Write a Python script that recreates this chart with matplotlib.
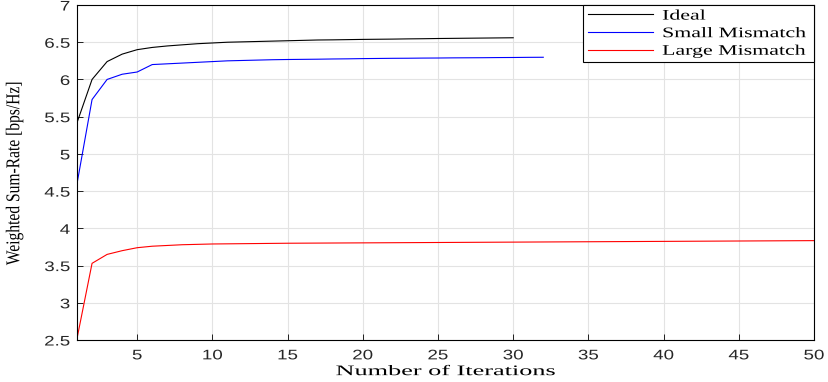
import numpy as np
import matplotlib.pyplot as plt
from matplotlib.patheffects import AbstractPathEffect
from matplotlib.transforms import Affine2D
from matplotlib.path import Path

# values
it_ideal = list(range(1, 31))
ideal = [5.42, 6.00, 6.24, 6.34, 6.40, 6.43, 6.45, 6.465, 6.48, 6.49,
         6.50, 6.505, 6.51, 6.515, 6.52, 6.525, 6.53, 6.532, 6.535, 6.538,
         6.54, 6.542, 6.545, 6.547, 6.55, 6.552, 6.554, 6.556, 6.558, 6.56]

it_small = list(range(1, 33))
small = [4.60, 5.73, 6.00, 6.07, 6.10, 6.20, 6.21, 6.22, 6.23, 6.24,
         6.25, 6.255, 6.26, 6.265, 6.268, 6.27, 6.272, 6.275, 6.277, 6.28,
         6.282, 6.284, 6.285, 6.287, 6.288, 6.29, 6.291, 6.292, 6.294, 6.295,
         6.297, 6.298]

it_large = list(range(1, 51))
large = [2.52, 3.53, 3.65, 3.70, 3.74, 3.76, 3.77, 3.78, 3.785, 3.79,
         3.792, 3.794, 3.796, 3.798, 3.80, 3.801, 3.802, 3.803, 3.804, 3.805,
         3.806, 3.807, 3.808, 3.809, 3.81, 3.811, 3.812, 3.813, 3.814, 3.815,
         3.816, 3.817, 3.818, 3.819, 3.82, 3.821, 3.822, 3.823, 3.824, 3.825,
         3.826, 3.827, 3.828, 3.829, 3.83, 3.831, 3.832, 3.833, 3.834, 3.835]

x_ticks = [5, 10, 15, 20, 25, 30, 35, 40, 45, 50]
y_ticks = [2.5, 3, 3.5, 4, 4.5, 5, 5.5, 6, 6.5, 7]
y_ticklabels = ['2.5', '3', '3.5', '4', '4.5', '5', '5.5', '6', '6.5', '7']


class Stretch(AbstractPathEffect):
    # widen (or narrow) text along its own direction, like the stretched fonts in the original
    def __init__(self, sx, anchor='center'):
        super().__init__()
        self.sx = sx
        self.anchor = anchor

    def draw_path(self, renderer, gc, tpath, affine, rgbFace=None):
        v = tpath.vertices
        if tpath.codes is not None:
            v = v[tpath.codes != Path.CLOSEPOLY]
        if self.anchor == 'left' or len(v) == 0:
            cx = 0
        elif self.anchor == 'right':
            cx = v[:, 0].max()
        else:
            cx = (v[:, 0].min() + v[:, 0].max()) / 2
        t = Affine2D().translate(-cx, 0).scale(self.sx, 1).translate(cx, 0) + affine
        renderer.draw_path(gc, tpath, t, rgbFace)


fig = plt.figure(figsize=(8.29, 3.82), dpi=100)
ax = fig.add_axes([0.0929, 0.1099, 0.889, 0.877])

ax.plot(it_ideal, ideal, color='black', lw=0.8, label='Ideal')
ax.plot(it_small, small, color='blue', lw=0.8, label='Small Mismatch')
ax.plot(it_large, large, color='red', lw=0.8, label='Large Mismatch')

ax.set_xlim(1, 50)
ax.set_ylim(2.5, 7)
ax.set_xticks(x_ticks)
ax.set_yticks(y_ticks)
ax.set_yticklabels(y_ticklabels)
ax.grid(True, color='#e3e3e3', lw=0.8)
ax.set_axisbelow(True)
ax.tick_params(direction='in', labelsize=10, length=4, width=0.6)
ax.tick_params(axis='x', pad=6)
ax.tick_params(axis='y', pad=5)
for lab in ax.get_xticklabels():
    lab.set_family('Liberation Sans')
    lab.set_color('#262626')
    lab.set_path_effects([Stretch(1.35)])
for lab in ax.get_yticklabels():
    lab.set_family('Liberation Sans')
    lab.set_color('#262626')
    lab.set_path_effects([Stretch(1.35, 'right')])
for s in ax.spines.values():
    s.set_linewidth(0.8)

xl = ax.set_xlabel('Number of Iterations', family='Liberation Serif', fontsize=10.5, labelpad=2)
xl.set_path_effects([Stretch(1.8)])
yl = ax.set_ylabel('Weighted Sum-Rate [bps/Hz]', family='Liberation Serif', fontsize=14)
yl.set_path_effects([Stretch(0.8)])
ax.yaxis.set_label_coords(-0.073, 0.5)

leg = ax.legend(loc='upper right', bbox_to_anchor=(0.687, 0.8, 0.313, 0.2), mode='expand',
                prop={'family': 'Liberation Serif', 'size': 10.5},
                fancybox=False, edgecolor='black', framealpha=1,
                borderpad=0.3, labelspacing=0.3, handlelength=4.5, handletextpad=0.6,
                borderaxespad=0)
leg.get_frame().set_linewidth(0.8)
for t in leg.get_texts():
    t.set_path_effects([Stretch(1.5, 'left')])

fig.savefig('out.png', dpi=100)
